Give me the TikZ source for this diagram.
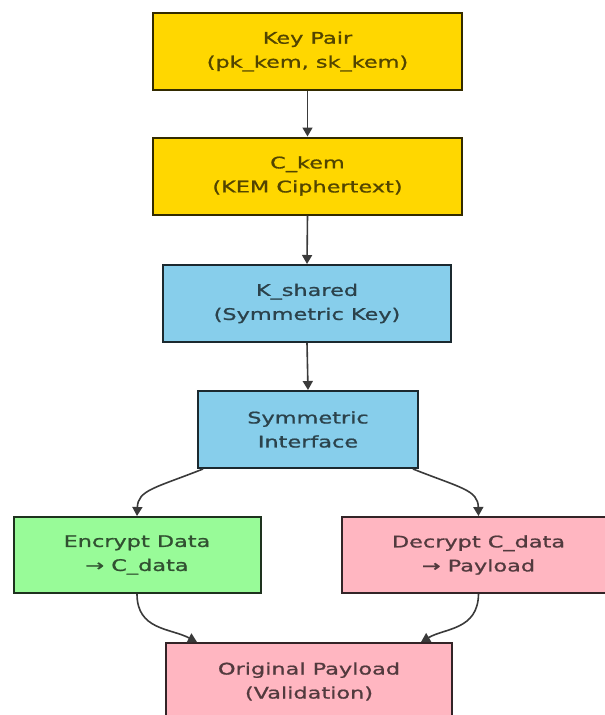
\documentclass[tikz,border=0pt]{standalone}
\usepackage{fontspec}
\newfontfamily\nodefont[FakeStretch=1.4,FakeBold=1]{DejaVu Sans}
\usetikzlibrary{arrows.meta}
\definecolor{cyellow}{HTML}{FFD700}
\definecolor{cblue}{HTML}{87CEEB}
\definecolor{cgreen}{HTML}{98FB98}
\definecolor{cpink}{HTML}{FFB6C1}
\definecolor{cline}{HTML}{3A3A3A}
\tikzset{
  box/.style={draw=#1!20!black, fill=#1, line width=2pt, rectangle, align=center,
    text=#1!32!black, font=\nodefont\fontsize{16}{24}\selectfont,
    inner sep=0pt, minimum height=77pt},
  link/.style={draw=cline, line width=1.6pt, -{Triangle[length=9pt,width=10pt]}}
}
\begin{document}
\begin{tikzpicture}[x=1pt,y=-1pt]
\useasboundingbox (0,0) rectangle (605,715);
\clip (0,0) rectangle (605,715);
\node[box=cyellow, minimum width=309pt] (kp) at (307.5,51.5) {Key Pair\\(pk\_kem, sk\_kem)};
\node[box=cyellow, minimum width=309pt] (ck) at (307.5,176) {C\_kem\\(KEM Ciphertext)};
\node[box=cblue, minimum width=288pt] (ks) at (307,303.5) {K\_shared\\(Symmetric Key)};
\node[box=cblue, minimum width=220pt] (si) at (308,429.5) {Symmetric\\Interface};
\node[box=cgreen, minimum width=247pt, minimum height=76pt] (enc) at (137,555) {Encrypt Data\\→ C\_data};
\node[box=cpink, minimum width=274pt, minimum height=76pt] (dec) at (478.5,555) {Decrypt C\_data\\→ Payload};
\node[box=cpink, minimum width=286pt] (op) at (309,681.5) {Original Payload\\(Validation)};
\draw[link] (kp.south) -- (ck.north);
\draw[link] (ck.south) -- (ks.north);
\draw[link] (ks.south) -- (si.north);
\draw[link] ([xshift=6pt]si.south west) .. controls (155,488) and (138,490) .. (enc.north);
\draw[link] ([xshift=-6pt]si.south east) .. controls (461,488) and (478,490) .. (dec.north);
\draw[link] (enc.south) .. controls (137,630) and (170,628) .. ([xshift=32pt]op.north west);
\draw[link] (dec.south) .. controls (478,630) and (445,628) .. ([xshift=-32pt]op.north east);
\end{tikzpicture}
\end{document}
